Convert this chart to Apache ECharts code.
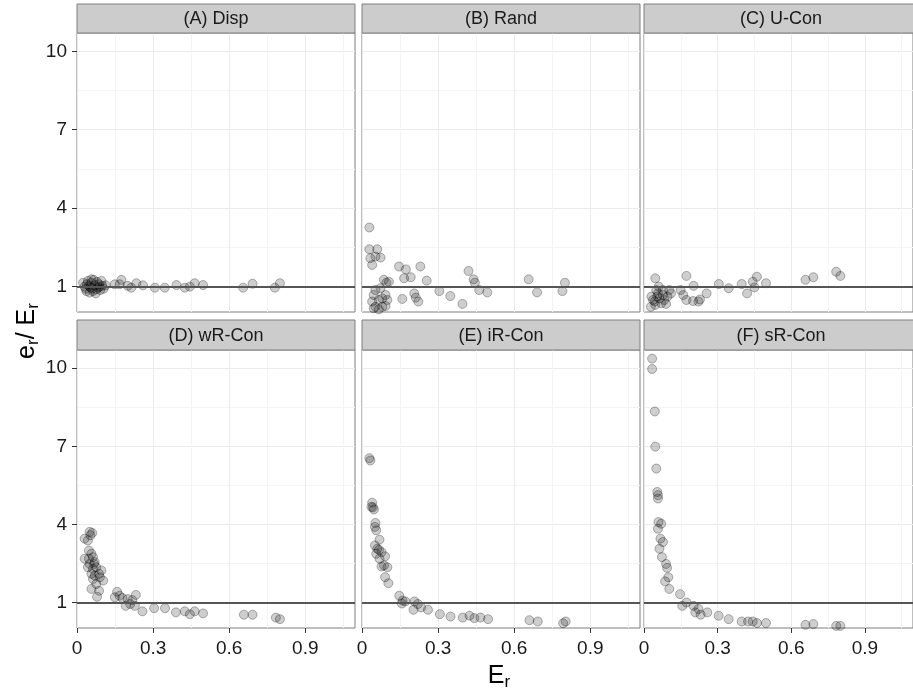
<!DOCTYPE html>
<html>
<head>
<meta charset="utf-8">
<script src="https://cdn.jsdelivr.net/npm/echarts@6/dist/echarts.min.js"></script>
<style>
  html, body { margin: 0; padding: 0; background: #fff; }
  #main { width: 913px; height: 691px; }
</style>
</head>
<body>
<div id="main"></div>
<script>
// panel titles and tick positions
const panelNames = ['(A) Disp', '(B) Rand', '(C) U-Con', '(D) wR-Con', '(E) iR-Con', '(F) sR-Con']
const xMajor = [0, 0.3, 0.6, 0.9]
const xMinor = [0.15, 0.45, 0.75, 1.05]
const yMajor = [1, 4, 7, 10]
const yMinor = [2.5, 5.5, 8.5]

// [E_r, e_r / E_r]
const disp = [
  [0.024, 1.15], [0.03, 1.0], [0.037, 0.83], [0.043, 1.22], [0.047, 1.03], [0.05, 0.77],
  [0.057, 1.15], [0.06, 0.92], [0.066, 1.26], [0.07, 1.05], [0.074, 0.74], [0.079, 1.18],
  [0.083, 0.96], [0.087, 1.09], [0.092, 0.87], [0.096, 1.22], [0.1, 1.03], [0.105, 0.92],
  [0.113, 1.05], [0.039, 1.09], [0.053, 0.96], [0.063, 0.83], [0.076, 0.9], [0.089, 1.0],
  [0.034, 0.92], [0.057, 1.28],
  [0.149, 1.09], [0.175, 1.26], [0.168, 1.09], [0.2, 1.03], [0.214, 0.96], [0.234, 1.13],
  [0.26, 1.05], [0.307, 0.96], [0.346, 0.96], [0.392, 1.06], [0.425, 0.96], [0.445, 1.0],
  [0.464, 1.13], [0.497, 1.06], [0.655, 0.96], [0.692, 1.11], [0.78, 0.96], [0.8, 1.13]
]
const rand = [
  [0.029, 3.26], [0.029, 2.43], [0.06, 2.43], [0.033, 2.09], [0.053, 2.15], [0.073, 2.11],
  [0.04, 1.83], [0.146, 1.77], [0.173, 1.66], [0.23, 1.77], [0.166, 1.32], [0.192, 1.36],
  [0.255, 1.23], [0.086, 1.26], [0.106, 1.19], [0.096, 1.15], [0.42, 1.6], [0.44, 1.28],
  [0.445, 1.15], [0.462, 0.87], [0.494, 0.78], [0.305, 0.83], [0.348, 0.64], [0.396, 0.34],
  [0.159, 0.53], [0.206, 0.74], [0.212, 0.58], [0.222, 0.43], [0.657, 1.28], [0.69, 0.78],
  [0.8, 1.15], [0.79, 0.83],
  [0.053, 0.87], [0.073, 0.94], [0.046, 0.68], [0.093, 0.68], [0.066, 0.49], [0.08, 0.55],
  [0.053, 0.23], [0.08, 0.23], [0.046, 0.17], [0.093, 0.26], [0.066, 0.13], [0.04, 0.43],
  [0.1, 0.49]
]
const uCon = [
  [0.046, 1.32], [0.173, 1.41], [0.202, 1.03], [0.149, 0.87], [0.16, 0.68], [0.173, 0.49],
  [0.2, 0.45], [0.222, 0.43], [0.228, 0.51], [0.255, 0.74], [0.305, 1.1], [0.345, 0.94],
  [0.398, 1.1], [0.42, 0.74], [0.443, 1.19], [0.46, 1.38], [0.45, 0.97], [0.497, 1.13],
  [0.658, 1.26], [0.69, 1.36], [0.783, 1.57], [0.8, 1.41],
  [0.03, 0.62], [0.028, 0.23], [0.044, 0.43], [0.057, 0.74], [0.063, 0.55], [0.077, 0.87],
  [0.05, 0.87], [0.083, 0.49], [0.096, 0.62], [0.103, 0.87], [0.07, 0.36], [0.09, 0.34],
  [0.037, 0.49], [0.06, 1.0], [0.054, 0.62], [0.077, 0.68], [0.046, 0.3], [0.11, 0.74]
]
const wrCon = [
  [0.05, 3.72], [0.06, 3.68], [0.03, 3.46], [0.043, 3.39], [0.053, 3.59],
  [0.047, 3.0], [0.057, 2.88], [0.03, 2.69], [0.047, 2.69], [0.063, 2.75], [0.07, 2.56],
  [0.05, 2.49], [0.043, 2.36], [0.063, 2.3], [0.076, 2.36], [0.057, 2.11], [0.07, 2.04],
  [0.09, 1.98], [0.096, 2.24], [0.103, 1.85], [0.087, 2.11], [0.076, 1.72], [0.057, 1.53],
  [0.087, 1.46], [0.079, 1.23], [0.063, 1.91], [0.067, 2.49],
  [0.158, 1.42], [0.168, 1.27], [0.149, 1.21], [0.179, 1.18], [0.2, 1.14], [0.232, 1.3],
  [0.192, 0.88], [0.21, 0.95], [0.228, 0.88], [0.218, 1.1],
  [0.258, 0.67], [0.304, 0.79], [0.347, 0.79], [0.39, 0.63], [0.425, 0.67], [0.445, 0.56],
  [0.464, 0.67], [0.497, 0.59], [0.658, 0.54], [0.692, 0.54], [0.784, 0.43], [0.8, 0.37]
]
const irCon = [
  [0.029, 6.55], [0.033, 6.46], [0.04, 4.84], [0.037, 4.68], [0.047, 4.58], [0.043, 4.66],
  [0.053, 4.06], [0.051, 3.91], [0.056, 3.78], [0.069, 3.42], [0.051, 3.2], [0.06, 3.07],
  [0.067, 3.03], [0.056, 2.88], [0.077, 2.94], [0.091, 2.78], [0.069, 2.69], [0.087, 2.43],
  [0.1, 2.36], [0.077, 2.39], [0.091, 1.98], [0.104, 1.75],
  [0.147, 1.27], [0.16, 1.08], [0.171, 1.05], [0.157, 0.97], [0.207, 1.05], [0.22, 0.95],
  [0.203, 0.73], [0.233, 0.82], [0.26, 0.73],
  [0.307, 0.56], [0.349, 0.47], [0.397, 0.43], [0.424, 0.5], [0.443, 0.41], [0.467, 0.43],
  [0.497, 0.37], [0.66, 0.33], [0.693, 0.28], [0.793, 0.21], [0.803, 0.28]
]
const srCon = [
  [0.033, 10.37], [0.033, 9.97], [0.044, 8.34], [0.046, 6.99], [0.05, 6.15], [0.054, 5.25],
  [0.057, 5.13], [0.057, 5.0], [0.059, 4.1], [0.07, 4.03], [0.057, 3.84], [0.067, 3.46],
  [0.077, 3.33], [0.063, 3.07], [0.073, 2.75], [0.09, 2.49], [0.094, 2.34], [0.099, 1.98],
  [0.086, 1.82], [0.103, 1.53], [0.147, 1.33], [0.173, 1.01], [0.156, 0.88], [0.202, 0.88],
  [0.222, 0.76], [0.209, 0.63], [0.231, 0.54], [0.258, 0.63], [0.304, 0.5], [0.345, 0.37],
  [0.398, 0.28], [0.424, 0.28], [0.443, 0.28], [0.46, 0.22], [0.497, 0.22], [0.658, 0.15],
  [0.69, 0.18], [0.783, 0.11], [0.8, 0.11]
]
const panelData = [disp, rand, uCon, wrCon, irCon, srCon]

const FONT = 'Liberation Sans, Arial, sans-serif'
const lefts = [77, 362, 644]
const tops = [33, 350]
const heights = [279, 278]
const stripTops = [4, 320]
const stripH = [29, 30]
const W = 278

const grids = [], xAxes = [], yAxes = [], series = [], graphics = []

for (let i = 0; i < 6; i++) {
  const r = Math.floor(i / 3), c = i % 3
  grids.push({
    left: lefts[c], top: tops[r], width: W, height: heights[r],
    show: true, borderColor: '#7f7f7f', borderWidth: 1, backgroundColor: '#fff'
  })
}

// main axes
for (let i = 0; i < 6; i++) {
  const r = Math.floor(i / 3), c = i % 3
  xAxes.push({
    gridIndex: i, type: 'value', min: 0, max: 1.096,
    axisLine: { show: false },
    axisTick: { show: r === 1, length: 5, customValues: xMajor, lineStyle: { color: '#333' } },
    axisLabel: { show: r === 1, customValues: xMajor, margin: 11, fontSize: 19, color: '#1a1a1a', fontFamily: FONT },
    splitLine: { show: true, lineStyle: { color: '#ebebeb', width: 1 } }
  })
  yAxes.push({
    gridIndex: i, type: 'value', min: 0.03, max: 10.7,
    axisLine: { show: false },
    axisTick: { show: c === 0, length: 5, customValues: yMajor, lineStyle: { color: '#333' } },
    axisLabel: { show: c === 0, customValues: yMajor, margin: 10, fontSize: 19, color: '#1a1a1a', fontFamily: FONT },
    splitLine: { show: true, lineStyle: { color: '#ebebeb', width: 1 } }
  })
}
// minor grid lines
for (let i = 0; i < 6; i++) {
  xAxes.push({
    gridIndex: i, type: 'value', position: 'top', min: 0, max: 1.096,
    axisLine: { show: false },
    axisTick: { show: false, customValues: xMinor },
    axisLabel: { show: false },
    splitLine: { show: true, lineStyle: { color: '#f4f4f4', width: 1 } }
  })
  yAxes.push({
    gridIndex: i, type: 'value', position: 'right', min: 0.03, max: 10.7,
    axisLine: { show: false },
    axisTick: { show: false, customValues: yMinor },
    axisLabel: { show: false },
    splitLine: { show: true, lineStyle: { color: '#f4f4f4', width: 1 } }
  })
}

for (let i = 0; i < 6; i++) {
  series.push({
    type: 'scatter', xAxisIndex: i, yAxisIndex: i,
    data: panelData[i], symbolSize: 9, silent: true,
    itemStyle: { color: 'rgba(0,0,0,0.24)', borderColor: 'rgba(0,0,0,0.36)', borderWidth: 1 },
    markLine: {
      silent: true, symbol: 'none', label: { show: false },
      lineStyle: { color: '#555555', width: 2, type: 'solid' },
      data: [{ yAxis: 1 }]
    },
    z: 3
  })
}

// facet strips
for (let i = 0; i < 6; i++) {
  const r = Math.floor(i / 3), c = i % 3
  graphics.push({
    type: 'rect', z: 10,
    shape: { x: lefts[c], y: stripTops[r], width: W, height: stripH[r] },
    style: { fill: '#cccccc', stroke: '#7f7f7f', lineWidth: 1 }
  })
  graphics.push({
    type: 'text', z: 11,
    x: lefts[c] + W / 2 - (c === 2 ? 2 : 0), y: stripTops[r] + stripH[r] / 2 + 1,
    style: { text: panelNames[i], fontSize: 18, fontFamily: FONT, fill: '#1a1a1a', align: 'center', verticalAlign: 'middle' }
  })
}

const titleRich = {
  m: { fontSize: 25, fontFamily: FONT, fill: '#000', lineHeight: 30 },
  s: { fontSize: 17, fontFamily: FONT, fill: '#000', lineHeight: 18, padding: [12, 0, 0, 0] }
}
// axis titles
graphics.push({
  type: 'text', x: 27, y: 331, rotation: Math.PI / 2, z: 11,
  style: { text: '{m|e}{s|r}{m|/ E}{s|r}', rich: titleRich, align: 'center', verticalAlign: 'middle' }
})
graphics.push({
  type: 'text', x: 499, y: 676, z: 11,
  style: { text: '{m|E}{s|r}', rich: titleRich, align: 'center', verticalAlign: 'middle' }
})

const chart = echarts.init(document.getElementById('main'))
chart.setOption({
  animation: false,
  backgroundColor: '#fff',
  grid: grids,
  xAxis: xAxes,
  yAxis: yAxes,
  series: series,
  graphic: graphics
})
</script>
</body>
</html>
